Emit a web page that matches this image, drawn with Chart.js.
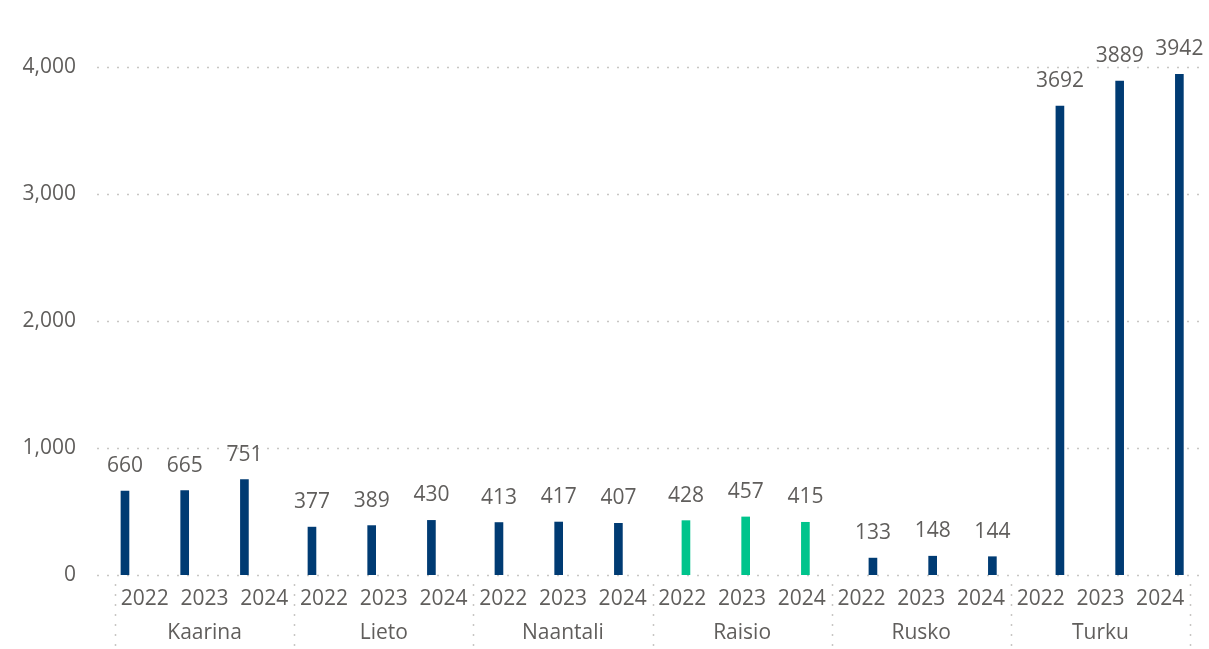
<!DOCTYPE html>
<html>
<head>
<meta charset="utf-8">
<script src="https://cdn.jsdelivr.net/npm/chart.js@4.4.1/dist/chart.umd.min.js"></script>
<style>
html, body { margin: 0; padding: 0; background: #fff; }
#wrap { width: 1209px; height: 649px; position: relative; }
</style>
</head>
<body>
<div id="wrap"><canvas id="myChart"></canvas></div>
<script>
//+++++++++++++++++++++++ Start:data +++++++++++++++++++++++
var municipalities = ['Kaarina', 'Lieto', 'Naantali', 'Raisio', 'Rusko', 'Turku'];
var years = ['2022', '2023', '2024'];
var values = [660, 665, 751, 377, 389, 430, 413, 417, 407, 428, 457, 415, 133, 148, 144, 3692, 3889, 3942];
var yTicks = [0, 1000, 2000, 3000, 4000];
var highlighted = 'Raisio';
//-------------------- End:data --------------------

var navy = '#003b73';
var green = '#00c48c';
var textGrey = '#605e5c';
var dotGrey = '#c8c6c4';
var font = "'Segoe UI', 'Open Sans', sans-serif";
var groupGap = 0.131; // extra spacing between municipality groups (in bar slots)

var yearLabels = [];
var barColors = [];
var barData = [];
municipalities.forEach(function (m, g) {
	years.forEach(function (yr, k) {
		var i = g * years.length + k;
		yearLabels.push(yr);
		barColors.push(m === highlighted ? green : navy);
		barData.push({ x: g * (years.length + groupGap) + k, y: values[i] });
	});
});

//+++++++++++++++++++++++ Start:plugins +++++++++++++++++++++++
// dotted gridlines (a bit wider than the plot) and group separators
var dottedGrid = {
	id: 'dottedGrid',
	beforeDatasetsDraw: function (chart) {
		var ctx = chart.ctx, y = chart.scales.y, a = chart.chartArea;
		ctx.save();
		ctx.strokeStyle = dotGrey;
		ctx.lineWidth = 1.5;
		ctx.setLineDash([2, 8]);
		y.ticks.forEach(function (t) {
			var py = Math.round(y.getPixelForValue(t.value)) + 0.5;
			ctx.beginPath();
			ctx.moveTo(a.left - 18, py);
			ctx.lineTo(a.right + 14, py);
			ctx.stroke();
		});
		var x2 = chart.scales.x2;
		var step = x2.width / municipalities.length;
		for (var g = 0; g <= municipalities.length; g++) {
			var px = Math.round(x2.left + g * step) + 0.5;
			ctx.beginPath();
			ctx.moveTo(px, a.bottom + 9);
			ctx.lineTo(px, chart.height);
			ctx.stroke();
		}
		ctx.restore();
	}
};

// value labels above the bars
var barLabels = {
	id: 'barLabels',
	afterDatasetsDraw: function (chart) {
		var ctx = chart.ctx, meta = chart.getDatasetMeta(0);
		ctx.save();
		ctx.font = '21px ' + font;
		ctx.fillStyle = textGrey;
		ctx.textAlign = 'center';
		ctx.textBaseline = 'middle';
		meta.data.forEach(function (bar, i) {
			ctx.fillText(String(values[i]), bar.x, bar.y - 25);
		});
		ctx.restore();
	}
};
//-------------------- End:plugins --------------------

var ctx = document.getElementById('myChart').getContext('2d');
var chart = new Chart(ctx, {
	type: 'bar',
	data: {
		datasets: [{
			data: barData,
			backgroundColor: barColors,
			barThickness: 8,
			xAxisID: 'xb',
			yAxisID: 'y'
		}]
	},
	options: {
		responsive: true,
		maintainAspectRatio: false,
		animation: false,
		layout: { padding: { top: 67, right: 19, bottom: 0, left: 0 } },
		plugins: {
			legend: { display: false },
			tooltip: { enabled: false }
		},
		scales: {
			x: {
				type: 'category',
				labels: yearLabels,
				position: 'bottom',
				offset: true,
				grid: { display: false, drawTicks: false },
				border: { display: false },
				afterFit: function (s) { s.height = 37; },
				ticks: { color: textGrey, font: { family: font, size: 21 }, padding: 11, autoSkip: false, maxRotation: 0 }
			},
			x2: {
				type: 'category',
				labels: municipalities,
				position: 'bottom',
				offset: true,
				grid: { display: false, drawTicks: false },
				border: { display: false },
				afterFit: function (s) { s.height = 37; },
				ticks: { color: textGrey, font: { family: font, size: 21 }, padding: 8, autoSkip: false, maxRotation: 0 }
			},
			xb: {
				type: 'linear',
				display: false,
				offset: false,
				min: -0.167,
				max: 17.833
			},
			y: {
				min: 0,
				max: 4000,
				grid: { display: false, drawTicks: false },
				border: { display: false },
				afterFit: function (s) { s.width = 115; },
				afterBuildTicks: function (s) {
					s.ticks = yTicks.map(function (v) { return { value: v }; });
				},
				ticks: {
					color: textGrey,
					font: { family: font, size: 21 },
					padding: 39,
					callback: function (v) { return v.toLocaleString('en-US'); }
				}
			}
		}
	},
	plugins: [dottedGrid, barLabels]
});
</script>
</body>
</html>
